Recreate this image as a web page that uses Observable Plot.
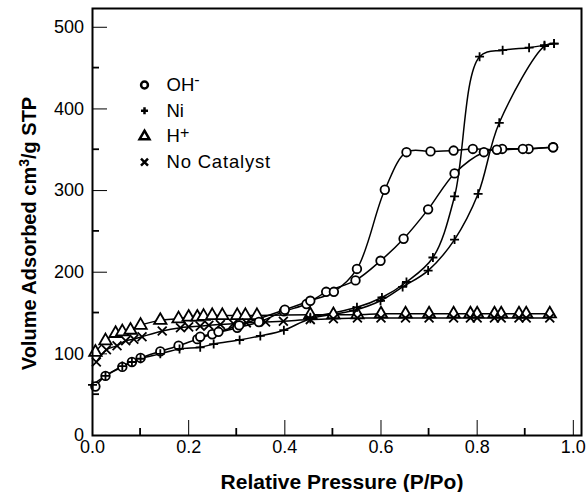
<!DOCTYPE html>
<html><head><meta charset="utf-8">
<script src="https://cdn.jsdelivr.net/npm/d3@7"></script>
<script src="https://cdn.jsdelivr.net/npm/@observablehq/plot@0.6"></script>
<style>
body{margin:0;background:#fff;}
#chart svg{display:block;}
g[aria-label$="axis"] text{letter-spacing:1.5px;}
g[aria-label$="axis"] line{stroke-width:1.8px;}
</style></head><body><div id="chart"></div>
<script>
// ---- data ----
const ohAdsX = [0.006,0.027,0.062,0.082,0.100,0.141,0.179,0.218,0.249,0.301,0.346,0.398,0.445,0.486,0.547,0.599,0.647,0.698,0.753,0.814,0.852,0.907,0.958];
const ohAdsY = [60,73,84,90,95,103,110,118,124,132,139,152,161,176,190,214,241,277,321,347,351,351,353];
const ohDesX = [0.958,0.895,0.841,0.791,0.751,0.703,0.653,0.608,0.550,0.502,0.453,0.400,0.305,0.262,0.224];
const ohDesY = [353,351,350,351,349,348,347,301,204,176,165,154,135,127,121];

const niAdsX = [0.000,0.027,0.062,0.082,0.100,0.141,0.181,0.224,0.252,0.306,0.349,0.398,0.453,0.543,0.599,0.645,0.698,0.753,0.802,0.846,0.940,0.960];
const niAdsY = [62,73,85,90,94,100,106,108,112,117,122,129,143,153,165,182,202,240,296,383,477,480];
const niDesX = [0.960,0.940,0.908,0.853,0.805,0.753,0.708,0.653,0.602,0.550,0.453];
const niDesY = [480,478,475,472,464,293,218,188,169,157,145];

const hX = [0.006,0.027,0.048,0.062,0.079,0.100,0.141,0.179,0.200,0.218,0.231,0.249,0.270,0.301,0.318,0.342,0.453,0.501,0.551,0.600,0.651,0.700,0.751,0.786,0.800,0.836,0.850,0.887,0.902,0.951];
const hY = [102,116,125,127,129,135,141,143,145,145,146,147,147,147,147,147,148,148,148,149,149,149,149,149,149,149,149,149,149,149];

const ncX = [0.008,0.029,0.051,0.069,0.086,0.103,0.145,0.183,0.200,0.224,0.242,0.266,0.293,0.320,0.360,0.397,0.453,0.501,0.551,0.600,0.651,0.700,0.751,0.786,0.800,0.836,0.850,0.887,0.902,0.951];
const ncY = [90,105,110,116,118,121,128,132,133,134,135,136,137,138,139,140,142,143,144,144,144,144,144,144,144,144,144,144,144,144];

const xMajor = [0,0.2,0.4,0.6,0.8,1.0];
const xMinor = [0.1,0.3,0.5,0.7,0.9];
const xTickLabels = ["0.0","0.2","0.4","0.6","0.8","1.0"];
const yMajor = [0,100,200,300,400,500];
const yMinor = [50,150,250,350,450];
const yTickLabels = ["0","100","200","300","400","500"];

const legendLabels = ["OH-","Ni","H+","No Catalyst"];
const legendSymbols = ["circle","plus","triangle","times"];
const xLabel = "Relative Pressure (P/Po)";
const yLabel = "Volume Adsorbed cm3/g STP";

// ---- build ----
const pts = (xs, ys) => xs.map((x, i) => ({x, y: ys[i]}));
const symStyle = {
  circle: {r: 4.3, fill: "white"},
  plus: {r: 3.0, fill: "none"},
  triangle: {r: 4.6, fill: "white"},
  times: {r: 4.1, fill: "none"}
};
const series = [
  {data: [pts(hX, hY)], sym: "triangle"},
  {data: [pts(ncX, ncY)], sym: "times"},
  {data: [pts(ohAdsX, ohAdsY), pts(ohDesX, ohDesY)], sym: "circle"},
  {data: [pts(niAdsX, niAdsY), pts(niDesX, niDesY)], sym: "plus"}
];

const marks = [];
for (const s of series) {
  for (const d of s.data) marks.push(Plot.line(d, {x: "x", y: "y", curve: "catmull-rom", stroke: "black", strokeWidth: 1.5}));
}
for (const s of series) {
  for (const d of s.data) marks.push(Plot.dot(d, {x: "x", y: "y", symbol: s.sym, r: symStyle[s.sym].r, fill: symStyle[s.sym].fill, stroke: "black", strokeWidth: 1.8}));
}
marks.push(Plot.frame({stroke: "black", strokeWidth: 2}));
// axis labels
marks.push(Plot.text([xLabel], {text: (d) => d, frameAnchor: "bottom", textAnchor: "middle", dx: 5, dy: 39, lineAnchor: "top", fontWeight: "bold", fontSize: 21}));
marks.push(Plot.text([yLabel], {text: (d) => d, frameAnchor: "left", textAnchor: "middle", rotate: -90, dx: -63.4, dy: 11.5, lineAnchor: "middle", fontWeight: "bold", fontSize: 20}));
// legend
legendLabels.forEach((lab, i) => {
  const sym = legendSymbols[i];
  const dy = 76.5 + i * 25.7;
  marks.push(Plot.dot([lab], {frameAnchor: "top-left", dx: 52, dy, symbol: sym, r: symStyle[sym].r * 0.8, fill: symStyle[sym].fill, stroke: "black", strokeWidth: 2.5}));
  marks.push(Plot.text([lab], {text: (d) => d, frameAnchor: "top-left", dx: 74, dy, textAnchor: "start", lineAnchor: "middle", fontSize: 18.5}));
});

const svg = Plot.plot({
  width: 588, height: 492,
  marginLeft: 92, marginRight: 7, marginTop: 8, marginBottom: 57,
  style: {fontFamily: "'Liberation Sans', Arial, Helvetica, sans-serif", fontSize: "18px", background: "white", color: "black"},
  x: {domain: [0, 1.017], ticks: xMajor, tickSize: -15, tickPadding: 20, tickFormat: (d) => xTickLabels[xMajor.indexOf(d)], label: null},
  y: {domain: [0, 523], ticks: yMajor, tickSize: -15, tickPadding: 23.5, tickFormat: (d) => yTickLabels[yMajor.indexOf(d)], label: null},
  marks
});

// minor ticks, drawn through the plot's own scales
const sx = svg.scale("x"), sy = svg.scale("y");
const X = d3.scaleLinear(sx.domain, sx.range), Y = d3.scaleLinear(sy.domain, sy.range);
const gm = d3.select(svg).append("g").attr("stroke", "black").attr("stroke-width", 1.8);
for (const d of xMinor) gm.append("line").attr("x1", X(d)).attr("x2", X(d)).attr("y1", Y(sy.domain[0])).attr("y2", Y(sy.domain[0]) - 7);
for (const d of yMinor) gm.append("line").attr("y1", Y(d)).attr("y2", Y(d)).attr("x1", X(sx.domain[0])).attr("x2", X(sx.domain[0]) + 7);

// superscripts
function superscript(full, parts) {
  d3.select(svg).selectAll("text").filter(function() { return this.textContent === full; }).each(function() {
    const t = d3.select(this);
    t.text(null);
    for (const [str, dy, size] of parts) {
      const sp = t.append("tspan").text(str);
      if (dy) sp.attr("dy", dy);
      if (size) sp.attr("font-size", size);
    }
  });
}
superscript("OH-", [["OH", 0, null], ["-", -6, 16]]);
superscript("H+", [["H", 0, null], ["+", -4, 16]]);
superscript(yLabel, [["Volume Adsorbed cm", 0, null], ["3", -7, 14], ["/g STP", 7, null]]);
d3.select(svg).selectAll("text").filter(function() { return this.textContent === "No Catalyst"; }).style("letter-spacing", "0.8px");

document.getElementById("chart").appendChild(svg);
</script>
</body></html>
